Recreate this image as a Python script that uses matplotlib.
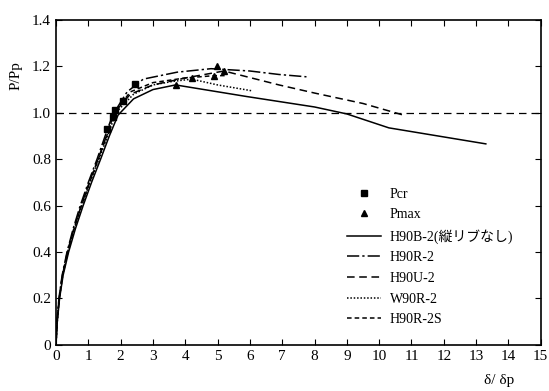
import matplotlib
matplotlib.use("Agg")
import matplotlib.pyplot as plt

plt.rcParams['font.family'] = ['Liberation Serif', 'Noto Sans CJK JP']

# load curves (x = delta/delta_p, y = P/Pp)
b2_x = [0, 0.04, 0.11, 0.22, 0.39, 0.6, 0.84, 1.1, 1.38, 1.65, 1.92, 2.4, 3.0, 3.7, 5.9, 8.0, 9.0, 10.3, 13.3]
b2_y = [0, 0.1, 0.2, 0.3, 0.4, 0.5, 0.6, 0.7, 0.8, 0.9, 0.99, 1.06, 1.10, 1.12, 1.07, 1.025, 0.995, 0.935, 0.866]

r2_x = [0, 0.03, 0.09, 0.19, 0.34, 0.53, 0.75, 1.0, 1.27, 1.52, 1.75, 2.2, 2.7, 3.75, 4.8, 6.0, 6.9, 7.75]
r2_y = [0, 0.1, 0.2, 0.3, 0.4, 0.5, 0.6, 0.7, 0.8, 0.9, 0.99, 1.09, 1.145, 1.175, 1.19, 1.18, 1.165, 1.155]

u2_x = [0, 0.03, 0.1, 0.2, 0.35, 0.55, 0.78, 1.03, 1.3, 1.56, 1.8, 2.3, 3.0, 4.0, 5.2, 6.9, 8.0, 9.5, 10.75]
u2_y = [0, 0.1, 0.2, 0.3, 0.4, 0.5, 0.6, 0.7, 0.8, 0.9, 1.0, 1.08, 1.12, 1.15, 1.18, 1.12, 1.085, 1.04, 0.99]

w2_x = [0, 0.04, 0.1, 0.21, 0.37, 0.57, 0.8, 1.05, 1.33, 1.6, 1.85, 2.4, 3.0, 3.6, 4.2, 5.0, 6.05]
w2_y = [0, 0.1, 0.2, 0.3, 0.4, 0.5, 0.6, 0.7, 0.8, 0.9, 1.0, 1.08, 1.12, 1.135, 1.145, 1.12, 1.095]

r2s_x = [0, 0.03, 0.1, 0.2, 0.36, 0.56, 0.79, 1.04, 1.31, 1.57, 1.8, 2.3, 3.0, 4.0, 4.9, 5.3]
r2s_y = [0, 0.1, 0.2, 0.3, 0.4, 0.5, 0.6, 0.7, 0.8, 0.9, 1.0, 1.09, 1.13, 1.15, 1.16, 1.16]

# marker points
pcr_x = [1.58, 1.76, 1.83, 2.08, 2.45]
pcr_y = [0.93, 0.98, 1.01, 1.05, 1.125]
pmax_x = [3.72, 4.2, 4.9, 4.98, 5.2]
pmax_y = [1.12, 1.15, 1.16, 1.20, 1.18]

fig = plt.figure(figsize=(5.49, 3.91), dpi=100)
ax = fig.add_axes([0.102, 0.118, 0.883, 0.831])

ax.axhline(1.0, color='black', lw=0.9, ls=(0, (6, 4)))

ax.plot(pcr_x, pcr_y, 's', color='black', ms=4.5, label='Pcr')
ax.plot(pmax_x, pmax_y, '^', color='black', ms=5, label='Pmax')
ax.plot(b2_x, b2_y, '-', color='black', lw=1.1, label='H90B-2(縦リブなし)')
ax.plot(r2_x, r2_y, color='black', lw=1.1, ls=(0, (8, 2, 1.5, 2)), label='H90R-2')
ax.plot(u2_x, u2_y, color='black', lw=1.1, ls=(0, (5, 3)), label='H90U-2')
ax.plot(w2_x, w2_y, color='black', lw=1.1, ls=(0, (1, 1.2)), label='W90R-2')
ax.plot(r2s_x, r2s_y, color='black', lw=1.1, ls=(0, (3, 2)), label='H90R-2S')

ax.set_xlim(0, 15)
ax.set_ylim(0, 1.4)
ax.set_xticks(range(0, 16))
ax.set_yticks([0, 0.2, 0.4, 0.6, 0.8, 1.0, 1.2, 1.4])
ax.set_yticklabels(['0', '0.2', '0.4', '0.6', '0.8', '1.0', '1.2', '1.4'])
ax.tick_params(direction='in', top=True, right=True, length=4, labelsize=11)
for s in ax.spines.values():
    s.set_linewidth(1.2)

ax.set_ylabel('P/Pp', fontsize=11)
ax.yaxis.set_label_coords(-0.07, 0.83)
ax.set_xlabel('δ/ δp', fontsize=11)
ax.xaxis.set_label_coords(0.915, -0.09)

ax.legend(loc='upper left', bbox_to_anchor=(0.585, 0.505), frameon=False,
          fontsize=10, numpoints=1, handlelength=2.5, handletextpad=0.6,
          labelspacing=0.55, borderpad=0)

fig.savefig('out.png', dpi=100)
